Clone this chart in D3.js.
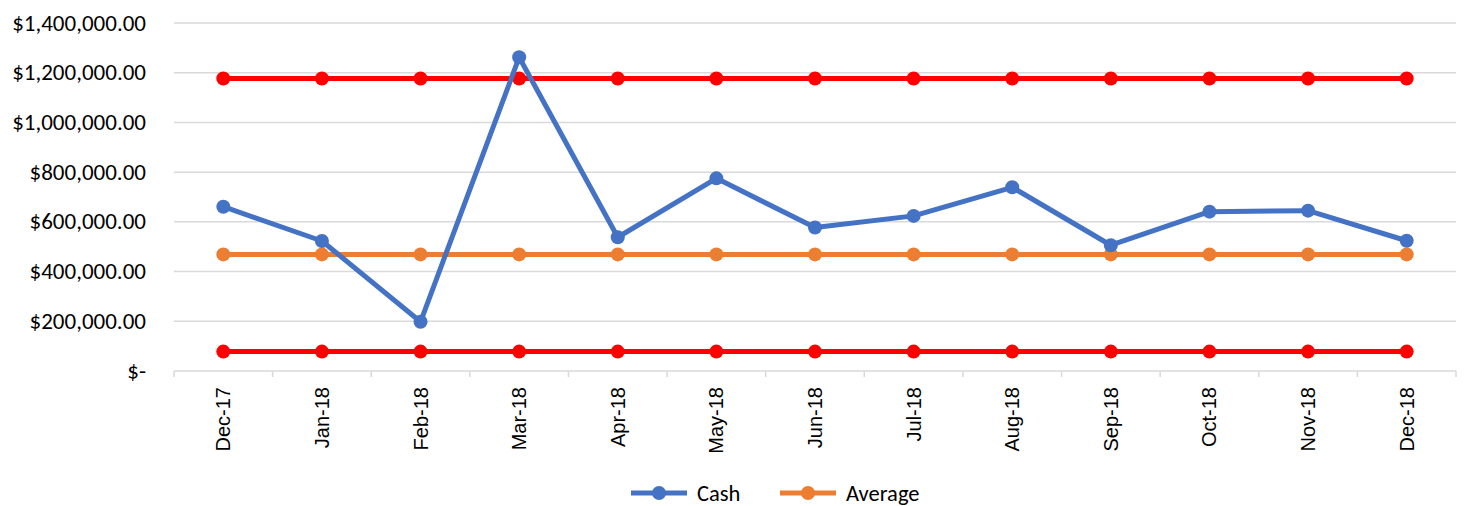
<!DOCTYPE html>
<html>
<head>
<meta charset="utf-8">
<script src="https://cdn.jsdelivr.net/npm/d3@7"></script>
<style>
  body { margin: 0; background: #fff; }
  svg text { fill: #000; }
</style>
</head>
<body>
<svg id="chart" width="1464" height="506"></svg>
<script>
// data
var months = ["Dec-17", "Jan-18", "Feb-18", "Mar-18", "Apr-18", "May-18", "Jun-18",
              "Jul-18", "Aug-18", "Sep-18", "Oct-18", "Nov-18", "Dec-18"];
var cash = [661000, 523000, 198000, 1262000, 538000, 775000, 577000,
            624000, 739000, 506000, 641000, 645000, 524000];
var average = months.map(function() { return 469000; });
var upperLimit = months.map(function() { return 1177000; });
var lowerLimit = months.map(function() { return 78000; });
var yTicks = [0, 200000, 400000, 600000, 800000, 1000000, 1200000, 1400000];

var svg = d3.select("#chart");
var plotLeft = 174, plotRight = 1456, plotTop = 23, plotBottom = 371;

var x = d3.scaleBand().domain(months).range([plotLeft, plotRight]);
var y = d3.scaleLinear().domain([0, 1400000]).range([plotBottom, plotTop]);

var fmt = d3.format("$,.2f");
var yFont = "Carlito, Lato, sans-serif";

// gridlines
svg.append("g").selectAll("line")
  .data(yTicks.filter(function(d) { return d > 0; }))
  .enter().append("line")
  .attr("x1", plotLeft).attr("x2", plotRight)
  .attr("y1", function(d) { return y(d); })
  .attr("y2", function(d) { return y(d); })
  .style("stroke", "#d9d9d9").style("stroke-width", 1.5);

// y labels
svg.append("g").selectAll("text")
  .data(yTicks)
  .enter().append("text")
  .attr("x", 146)
  .attr("y", function(d) { return y(d) + 7.5; })
  .attr("text-anchor", "end")
  .style("font-family", yFont)
  .style("font-size", "23px")
  .text(function(d) { return d === 0 ? "$-" : fmt(d); });

// x axis
var xAxis = svg.append("g")
  .attr("transform", "translate(0," + plotBottom + ")");
xAxis.append("line")
  .attr("x1", plotLeft).attr("x2", plotRight)
  .style("stroke", "#d9d9d9").style("stroke-width", 1.5);
xAxis.selectAll(".tick")
  .data(months.concat(["end"]))
  .enter().append("line")
  .attr("x1", function(d, i) { return plotLeft + i * x.step(); })
  .attr("x2", function(d, i) { return plotLeft + i * x.step(); })
  .attr("y1", 0).attr("y2", 6)
  .style("stroke", "#d9d9d9").style("stroke-width", 1.5);
xAxis.selectAll("text")
  .data(months)
  .enter().append("text")
  .attr("transform", function(d) {
    return "translate(" + (x(d) + x.bandwidth() / 2 + 7) + ",16) rotate(-90)";
  })
  .attr("text-anchor", "end")
  .style("font-family", "'Liberation Sans', Arial, sans-serif")
  .style("font-size", "20px")
  .text(function(d) { return d; });

var line = d3.line()
  .x(function(d, i) { return x(months[i]) + x.bandwidth() / 2; })
  .y(function(d) { return y(d); });

function drawSeries(values, color) {
  var g = svg.append("g");
  g.append("path")
    .attr("d", line(values))
    .style("fill", "none")
    .style("stroke", color)
    .style("stroke-width", 5)
    .style("stroke-linejoin", "round");
  g.selectAll("circle")
    .data(values)
    .enter().append("circle")
    .attr("cx", function(d, i) { return x(months[i]) + x.bandwidth() / 2; })
    .attr("cy", function(d) { return y(d); })
    .attr("r", 7)
    .style("fill", color);
}

drawSeries(upperLimit, "#ff0000");
drawSeries(lowerLimit, "#ff0000");
drawSeries(average, "#ed7d31");
drawSeries(cash, "#4472c4");

// legend
var legend = [{name: "Cash", color: "#4472c4", x: 631}, {name: "Average", color: "#ed7d31", x: 780}];
var lg = svg.append("g").selectAll("g")
  .data(legend)
  .enter().append("g")
  .attr("transform", function(d) { return "translate(" + d.x + ",493)"; });
lg.append("line")
  .attr("x1", 0).attr("x2", 56)
  .style("stroke", function(d) { return d.color; })
  .style("stroke-width", 5);
lg.append("circle")
  .attr("cx", 28).attr("r", 7)
  .style("fill", function(d) { return d.color; });
lg.append("text")
  .attr("x", 66).attr("y", 8)
  .style("font-family", yFont)
  .style("font-size", "22.5px")
  .text(function(d) { return d.name; });
</script>
</body>
</html>
